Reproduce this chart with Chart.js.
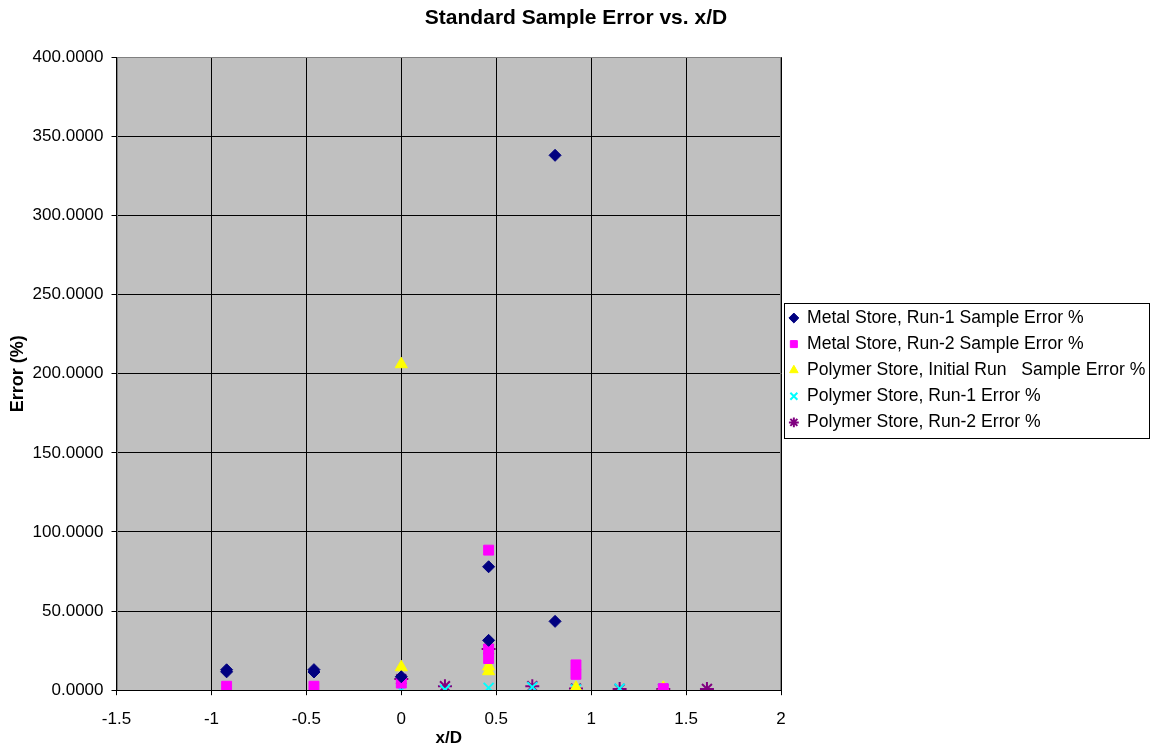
<!DOCTYPE html>
<html>
<head>
<meta charset="utf-8">
<script src="https://cdn.jsdelivr.net/npm/chart.js@4.4.1/dist/chart.umd.min.js"></script>
<style>
  html, body { margin: 0; padding: 0; background: #fff; }
  #wrap { width: 1150px; height: 749px; }
</style>
</head>
<body>
<div id="wrap"><canvas id="errChart"></canvas></div>
<script>
"use strict"

// x/D positions and errors (%)
const metalRun1X = [-0.92, -0.92, -0.46, -0.46, 0, 0.46, 0.46, 0.81, 0.81];
const metalRun1Y = [11.6, 12.9, 11.5, 13.0, 8.5, 31.5, 78.0, 338.0, 43.5];

const metalRun2X = [-0.92, -0.46, 0, 0.46, 0.46, 0.46, 0.92, 0.92, 1.38];
const metalRun2Y = [2.5, 2.5, 4.5, 88.5, 26.0, 20.0, 16.0, 10.0, 1.0];

const polyInitX = [0, 0, 0.46, 0.46, 0.92, 1.38];
const polyInitY = [206.0, 14.5, 15.0, 12.0, 1.5, 1.5];

const polyRun1X = [0, 0.23, 0.46, 0.69, 0.92, 1.15, 1.38];
const polyRun1Y = [0.0, 0.3, 1.5, 2.0, 0.5, 1.0, 1.0];

const polyRun2X = [0, 0.23, 0.46, 0.69, 0.92, 1.15, 1.38, 1.61];
const polyRun2Y = [7.0, 2.5, 26.0, 2.5, 1.0, 0.8, 0.8, 0.8];

const seriesNames = [
    "Metal Store, Run-1 Sample Error %",
    "Metal Store, Run-2 Sample Error %",
    "Polymer Store, Initial Run   Sample Error %",
    "Polymer Store, Run-1 Error %",
    "Polymer Store, Run-2 Error %"
];

let toPoints = function (xs, ys) {
    return xs.map((x, i) => ({ x: x, y: ys[i] }));
};

// grey plot area, frame and legend box
const plotBg = {
    id: "plotBg",
    beforeDraw(chart) {
        const { ctx, chartArea: a } = chart;
        ctx.save();
        ctx.fillStyle = "#C0C0C0";
        ctx.fillRect(a.left, a.top, a.right - a.left, a.bottom - a.top);
        ctx.restore();
    },
    afterDraw(chart) {
        const { ctx, chartArea: a } = chart;
        ctx.save();
        ctx.strokeStyle = "#808080";
        ctx.lineWidth = 1;
        ctx.strokeRect(Math.round(a.left) + 0.5, Math.round(a.top) + 0.5,
            Math.round(a.right - a.left) - 1, Math.round(a.bottom - a.top));
        ctx.strokeStyle = "#000";
        ctx.beginPath();
        ctx.moveTo(a.left, Math.round(a.bottom) + 0.5);
        ctx.lineTo(a.right, Math.round(a.bottom) + 0.5);
        ctx.stroke();
        const lg = chart.legend;
        if (lg && lg.legendHitBoxes && lg.legendHitBoxes.length) {
            const boxes = lg.legendHitBoxes;
            const last = boxes[boxes.length - 1];
            const top = Math.round(boxes[0].top - 6.5);
            const bottom = Math.round(last.top + last.height + 6.5);
            const left = Math.round(lg.left) + 3;
            ctx.strokeStyle = "#000";
            ctx.strokeRect(left + 0.5, top + 0.5, 1149 - left, bottom - top);
        }
        ctx.restore();
    }
};

const ctx = document.getElementById("errChart").getContext("2d");
new Chart(ctx, {
    type: "scatter",
    data: {
        datasets: [
            {
                label: seriesNames[0],
                data: toPoints(metalRun1X, metalRun1Y),
                pointStyle: "rectRot",
                pointRadius: 6,
                backgroundColor: "#000080",
                borderColor: "#000080",
                borderWidth: 1
            },
            {
                label: seriesNames[1],
                data: toPoints(metalRun2X, metalRun2Y),
                pointStyle: "rect",
                pointRadius: 7,
                backgroundColor: "#FF00FF",
                borderColor: "#FF00FF",
                borderWidth: 1
            },
            {
                label: seriesNames[2],
                data: toPoints(polyInitX, polyInitY),
                pointStyle: "triangle",
                pointRadius: 7,
                backgroundColor: "#FFFF00",
                borderColor: "#FFFF00",
                borderWidth: 1
            },
            {
                label: seriesNames[3],
                data: toPoints(polyRun1X, polyRun1Y),
                pointStyle: "crossRot",
                pointRadius: 7,
                backgroundColor: "#00FFFF",
                borderColor: "#00FFFF",
                borderWidth: 2
            },
            {
                label: seriesNames[4],
                data: toPoints(polyRun2X, polyRun2Y),
                pointStyle: "star",
                pointRadius: 7,
                backgroundColor: "#800080",
                borderColor: "#800080",
                borderWidth: 2
            }
        ]
    },
    options: {
        responsive: true,
        maintainAspectRatio: false,
        animation: false,
        layout: { padding: { left: 2, right: 0, top: 0, bottom: 0 } },
        plugins: {
            title: {
                display: true,
                text: "Standard Sample Error vs. x/D",
                color: "#000",
                font: { family: "Liberation Sans", size: 21, weight: "bold" },
                padding: { top: 6, bottom: 26 }
            },
            legend: {
                position: "right",
                align: "start",
                maxWidth: 369,
                // empty title only used to push the entries down to the middle
                title: {
                    display: true,
                    text: "",
                    font: { size: 10 },
                    padding: { top: 288.7, bottom: 0 }
                },
                labels: {
                    usePointStyle: true,
                    boxWidth: 8.7,
                    boxHeight: 7,
                    padding: 8.5,
                    color: "#000",
                    font: { family: "Liberation Sans", size: 17.6 }
                }
            },
            tooltip: { enabled: false }
        },
        scales: {
            x: {
                type: "linear",
                min: -1.5,
                max: 2,
                ticks: {
                    stepSize: 0.5,
                    color: "#000",
                    font: { family: "Liberation Sans", size: 17 },
                    padding: 14,
                    callback: function (value) {
                        return String(Math.round(value * 10) / 10);
                    }
                },
                grid: { color: "#000", lineWidth: 1, tickLength: 5, tickColor: "#000" },
                border: { display: false },
                title: {
                    display: true,
                    text: "x/D",
                    color: "#000",
                    font: { family: "Liberation Sans", size: 17, weight: "bold" },
                    padding: { top: -15, bottom: 0 }
                }
            },
            y: {
                min: 0,
                max: 400,
                ticks: {
                    stepSize: 50,
                    color: "#000",
                    font: { family: "Liberation Sans", size: 17 },
                    padding: 8,
                    callback: function (value) {
                        return value.toFixed(4);
                    }
                },
                grid: { color: "#000", lineWidth: 1, tickLength: 5, tickColor: "#000" },
                border: { display: false },
                title: {
                    display: true,
                    text: "Error (%)",
                    color: "#000",
                    font: { family: "Liberation Sans", size: 18, weight: "bold" },
                    padding: { top: 5, bottom: -4 }
                }
            }
        }
    },
    plugins: [plotBg]
});
</script>
</body>
</html>
